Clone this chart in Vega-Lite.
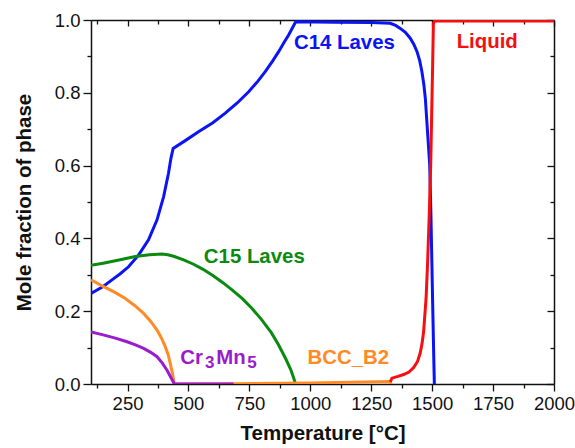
{
  "$schema": "https://vega.github.io/schema/vega-lite/v6.json",
  "width": 463,
  "height": 364,
  "autosize": "none",
  "padding": {"left": 91, "top": 20, "right": 21, "bottom": 64},
  "background": "white",
  "config": {
    "view": {"stroke": null},
    "font": "Liberation Sans",
    "axis": {"grid": false, "domainColor": "#111", "tickColor": "#111", "domainWidth": 1.5, "tickWidth": 1.3, "labelColor": "#111", "titleColor": "#111", "labelFont": "Liberation Sans", "titleFont": "Liberation Sans", "labelFontSize": 18.5, "titleFontSize": 20.5, "titleFontWeight": "bold"}
  },
  "datasets": {
    "curves": [
      {"phase": "C14 Laves", "T": 100, "y": 0.249},
      {"phase": "C14 Laves", "T": 150, "y": 0.268},
      {"phase": "C14 Laves", "T": 186, "y": 0.286},
      {"phase": "C14 Laves", "T": 220, "y": 0.303},
      {"phase": "C14 Laves", "T": 254, "y": 0.322},
      {"phase": "C14 Laves", "T": 295, "y": 0.354},
      {"phase": "C14 Laves", "T": 336, "y": 0.396},
      {"phase": "C14 Laves", "T": 371, "y": 0.451},
      {"phase": "C14 Laves", "T": 398, "y": 0.515},
      {"phase": "C14 Laves", "T": 418, "y": 0.579},
      {"phase": "C14 Laves", "T": 428, "y": 0.62},
      {"phase": "C14 Laves", "T": 437, "y": 0.647},
      {"phase": "C14 Laves", "T": 490, "y": 0.67},
      {"phase": "C14 Laves", "T": 541, "y": 0.693},
      {"phase": "C14 Laves", "T": 600, "y": 0.718},
      {"phase": "C14 Laves", "T": 651, "y": 0.744},
      {"phase": "C14 Laves", "T": 700, "y": 0.772},
      {"phase": "C14 Laves", "T": 747, "y": 0.803},
      {"phase": "C14 Laves", "T": 785, "y": 0.832},
      {"phase": "C14 Laves", "T": 815, "y": 0.858},
      {"phase": "C14 Laves", "T": 845, "y": 0.887},
      {"phase": "C14 Laves", "T": 870, "y": 0.913},
      {"phase": "C14 Laves", "T": 892, "y": 0.938},
      {"phase": "C14 Laves", "T": 911, "y": 0.959},
      {"phase": "C14 Laves", "T": 940, "y": 0.995},
      {"phase": "C14 Laves", "T": 1100, "y": 0.994},
      {"phase": "C14 Laves", "T": 1250, "y": 0.993},
      {"phase": "C14 Laves", "T": 1328, "y": 0.991},
      {"phase": "C14 Laves", "T": 1350, "y": 0.985},
      {"phase": "C14 Laves", "T": 1369, "y": 0.977},
      {"phase": "C14 Laves", "T": 1390, "y": 0.966},
      {"phase": "C14 Laves", "T": 1410, "y": 0.95},
      {"phase": "C14 Laves", "T": 1425, "y": 0.933},
      {"phase": "C14 Laves", "T": 1438, "y": 0.913},
      {"phase": "C14 Laves", "T": 1449, "y": 0.888},
      {"phase": "C14 Laves", "T": 1458, "y": 0.858},
      {"phase": "C14 Laves", "T": 1466, "y": 0.822},
      {"phase": "C14 Laves", "T": 1472, "y": 0.785},
      {"phase": "C14 Laves", "T": 1481, "y": 0.693},
      {"phase": "C14 Laves", "T": 1490, "y": 0.602},
      {"phase": "C14 Laves", "T": 1495, "y": 0.464},
      {"phase": "C14 Laves", "T": 1499, "y": 0.327},
      {"phase": "C14 Laves", "T": 1503, "y": 0.19},
      {"phase": "C14 Laves", "T": 1507, "y": 0.061},
      {"phase": "C14 Laves", "T": 1509, "y": 0.0},
      {"phase": "C15 Laves", "T": 100, "y": 0.326},
      {"phase": "C15 Laves", "T": 150, "y": 0.332},
      {"phase": "C15 Laves", "T": 210, "y": 0.34},
      {"phase": "C15 Laves", "T": 282, "y": 0.35},
      {"phase": "C15 Laves", "T": 340, "y": 0.355},
      {"phase": "C15 Laves", "T": 391, "y": 0.357},
      {"phase": "C15 Laves", "T": 415, "y": 0.355},
      {"phase": "C15 Laves", "T": 439, "y": 0.351},
      {"phase": "C15 Laves", "T": 480, "y": 0.341},
      {"phase": "C15 Laves", "T": 521, "y": 0.329},
      {"phase": "C15 Laves", "T": 560, "y": 0.315},
      {"phase": "C15 Laves", "T": 600, "y": 0.298},
      {"phase": "C15 Laves", "T": 640, "y": 0.279},
      {"phase": "C15 Laves", "T": 680, "y": 0.258},
      {"phase": "C15 Laves", "T": 720, "y": 0.235},
      {"phase": "C15 Laves", "T": 760, "y": 0.208},
      {"phase": "C15 Laves", "T": 800, "y": 0.177},
      {"phase": "C15 Laves", "T": 840, "y": 0.141},
      {"phase": "C15 Laves", "T": 870, "y": 0.107},
      {"phase": "C15 Laves", "T": 900, "y": 0.068},
      {"phase": "C15 Laves", "T": 920, "y": 0.039},
      {"phase": "C15 Laves", "T": 940, "y": 0.0},
      {"phase": "BCC_B2", "T": 100, "y": 0.286},
      {"phase": "BCC_B2", "T": 150, "y": 0.268},
      {"phase": "BCC_B2", "T": 200, "y": 0.251},
      {"phase": "BCC_B2", "T": 241, "y": 0.235},
      {"phase": "BCC_B2", "T": 280, "y": 0.215},
      {"phase": "BCC_B2", "T": 316, "y": 0.194},
      {"phase": "BCC_B2", "T": 345, "y": 0.172},
      {"phase": "BCC_B2", "T": 371, "y": 0.148},
      {"phase": "BCC_B2", "T": 390, "y": 0.125},
      {"phase": "BCC_B2", "T": 405, "y": 0.102},
      {"phase": "BCC_B2", "T": 417, "y": 0.08},
      {"phase": "BCC_B2", "T": 425, "y": 0.057},
      {"phase": "BCC_B2", "T": 434, "y": 0.03},
      {"phase": "BCC_B2", "T": 442, "y": 0.0},
      {"phase": "BCC_B2", "T": 700, "y": 0.001},
      {"phase": "BCC_B2", "T": 1000, "y": 0.003},
      {"phase": "BCC_B2", "T": 1328, "y": 0.007},
      {"phase": "BCC_B2", "T": 1331, "y": 0.0},
      {"phase": "Cr3Mn5", "T": 100, "y": 0.143},
      {"phase": "Cr3Mn5", "T": 150, "y": 0.135},
      {"phase": "Cr3Mn5", "T": 200, "y": 0.126},
      {"phase": "Cr3Mn5", "T": 248, "y": 0.116},
      {"phase": "Cr3Mn5", "T": 280, "y": 0.108},
      {"phase": "Cr3Mn5", "T": 316, "y": 0.098},
      {"phase": "Cr3Mn5", "T": 345, "y": 0.087},
      {"phase": "Cr3Mn5", "T": 371, "y": 0.075},
      {"phase": "Cr3Mn5", "T": 392, "y": 0.058},
      {"phase": "Cr3Mn5", "T": 412, "y": 0.038},
      {"phase": "Cr3Mn5", "T": 428, "y": 0.018},
      {"phase": "Cr3Mn5", "T": 442, "y": 0.0},
      {"phase": "Cr3Mn5", "T": 685, "y": 0.0},
      {"phase": "Liquid", "T": 1328, "y": 0.006},
      {"phase": "Liquid", "T": 1335, "y": 0.016},
      {"phase": "Liquid", "T": 1360, "y": 0.021},
      {"phase": "Liquid", "T": 1383, "y": 0.026},
      {"phase": "Liquid", "T": 1405, "y": 0.033},
      {"phase": "Liquid", "T": 1424, "y": 0.045},
      {"phase": "Liquid", "T": 1440, "y": 0.062},
      {"phase": "Liquid", "T": 1451, "y": 0.085},
      {"phase": "Liquid", "T": 1459, "y": 0.113},
      {"phase": "Liquid", "T": 1465, "y": 0.144},
      {"phase": "Liquid", "T": 1475, "y": 0.235},
      {"phase": "Liquid", "T": 1481, "y": 0.327},
      {"phase": "Liquid", "T": 1488, "y": 0.464},
      {"phase": "Liquid", "T": 1494, "y": 0.602},
      {"phase": "Liquid", "T": 1498, "y": 0.739},
      {"phase": "Liquid", "T": 1502, "y": 0.876},
      {"phase": "Liquid", "T": 1505, "y": 0.99},
      {"phase": "Liquid", "T": 1510, "y": 0.997},
      {"phase": "Liquid", "T": 2000, "y": 0.997}
    ],
    "labels": [
      {"phase": "C14 Laves", "text": "C14 Laves", "T": 1140, "y": 0.937},
      {"phase": "Liquid", "text": "Liquid", "T": 1726, "y": 0.94},
      {"phase": "C15 Laves", "text": "C15 Laves", "T": 770, "y": 0.349},
      {"phase": "BCC_B2", "text": "BCC_B2", "T": 1156, "y": 0.071}
    ],
    "formula": [
      {"phase": "Cr3Mn5", "text": "Cr", "T": 466, "y": 0.071, "sub": false},
      {"phase": "Cr3Mn5", "text": "3", "T": 568, "y": 0.071, "sub": true},
      {"phase": "Cr3Mn5", "text": "Mn", "T": 614, "y": 0.071, "sub": false},
      {"phase": "Cr3Mn5", "text": "5", "T": 741, "y": 0.071, "sub": true}
    ],
    "anchor": [{"T": 100, "y": 0}]
  },
  "resolve": {"axis": {"x": "independent", "y": "independent"}},
  "layer": [
    {
      "data": {"name": "anchor"},
      "mark": {"type": "point", "opacity": 0},
      "encoding": {
        "x": {"field": "T", "type": "quantitative", "scale": {"domain": [100, 2000], "nice": false, "zero": false},
          "axis": {"orient": "bottom", "values": [250, 500, 750, 1000, 1250, 1500, 1750, 2000], "format": "d", "tickSize": 7, "labelPadding": 3, "labelFlush": false, "title": "Temperature [°C]", "titlePadding": 11}},
        "y": {"field": "y", "type": "quantitative", "scale": {"domain": [0, 1], "nice": false, "zero": false},
          "axis": {"orient": "left", "values": [0, 0.2, 0.4, 0.6, 0.8, 1.0], "format": ".1f", "tickSize": 8, "labelPadding": 3, "labelFlush": false, "title": "Mole fraction of phase", "titlePadding": 20}}
      }
    },
    {
      "data": {"name": "anchor"},
      "mark": {"type": "point", "opacity": 0},
      "encoding": {
        "x": {"field": "T", "type": "quantitative",
          "axis": {"orient": "bottom", "values": [125, 375, 625, 875, 1125, 1375, 1625, 1875], "tickSize": 4, "labels": false, "domain": false, "title": null}},
        "y": {"field": "y", "type": "quantitative",
          "axis": {"orient": "left", "values": [0.1, 0.3, 0.5, 0.7, 0.9], "tickSize": 4, "labels": false, "domain": false, "title": null}}
      }
    },
    {
      "data": {"name": "anchor"},
      "mark": {"type": "point", "opacity": 0},
      "encoding": {
        "x": {"field": "T", "type": "quantitative",
          "axis": {"orient": "top", "values": [250, 500, 750, 1000, 1250, 1500, 1750, 2000], "tickSize": -6, "labels": false, "title": null}},
        "y": {"field": "y", "type": "quantitative",
          "axis": {"orient": "right", "values": [0, 0.2, 0.4, 0.6, 0.8, 1.0], "tickSize": -7, "labels": false, "title": null}}
      }
    },
    {
      "data": {"name": "anchor"},
      "mark": {"type": "point", "opacity": 0},
      "encoding": {
        "x": {"field": "T", "type": "quantitative",
          "axis": {"orient": "top", "values": [125, 375, 625, 875, 1125, 1375, 1625, 1875], "tickSize": -4, "labels": false, "domain": false, "title": null}},
        "y": {"field": "y", "type": "quantitative",
          "axis": {"orient": "right", "values": [0.1, 0.3, 0.5, 0.7, 0.9], "tickSize": -4, "labels": false, "domain": false, "title": null}}
      }
    },
    {
      "data": {"name": "curves"},
      "transform": [{"filter": "datum.phase === 'C14 Laves'"}],
      "mark": {"type": "line", "strokeWidth": 3, "clip": true},
      "encoding": {
        "x": {"field": "T", "type": "quantitative", "axis": null},
        "y": {"field": "y", "type": "quantitative", "axis": null},
        "color": {"field": "phase", "type": "nominal", "legend": null,
          "scale": {"domain": ["C14 Laves", "C15 Laves", "BCC_B2", "Cr3Mn5", "Liquid"], "range": ["#0a14f5", "#0b8a10", "#ff8a26", "#9a1ccc", "#f50f0f"]}}
      }
    },
    {
      "data": {"name": "curves"},
      "transform": [{"filter": "datum.phase === 'C15 Laves'"}],
      "mark": {"type": "line", "strokeWidth": 3, "clip": true},
      "encoding": {
        "x": {"field": "T", "type": "quantitative", "axis": null},
        "y": {"field": "y", "type": "quantitative", "axis": null},
        "color": {"field": "phase", "type": "nominal", "legend": null}
      }
    },
    {
      "data": {"name": "curves"},
      "transform": [{"filter": "datum.phase === 'BCC_B2'"}],
      "mark": {"type": "line", "strokeWidth": 3, "clip": true},
      "encoding": {
        "x": {"field": "T", "type": "quantitative", "axis": null},
        "y": {"field": "y", "type": "quantitative", "axis": null},
        "color": {"field": "phase", "type": "nominal", "legend": null}
      }
    },
    {
      "data": {"name": "curves"},
      "transform": [{"filter": "datum.phase === 'Cr3Mn5'"}],
      "mark": {"type": "line", "strokeWidth": 3, "clip": true},
      "encoding": {
        "x": {"field": "T", "type": "quantitative", "axis": null},
        "y": {"field": "y", "type": "quantitative", "axis": null},
        "color": {"field": "phase", "type": "nominal", "legend": null}
      }
    },
    {
      "data": {"name": "curves"},
      "transform": [{"filter": "datum.phase === 'Liquid'"}],
      "mark": {"type": "line", "strokeWidth": 3, "clip": true},
      "encoding": {
        "x": {"field": "T", "type": "quantitative", "axis": null},
        "y": {"field": "y", "type": "quantitative", "axis": null},
        "color": {"field": "phase", "type": "nominal", "legend": null}
      }
    },
    {
      "data": {"name": "labels"},
      "mark": {"type": "text", "font": "Liberation Sans", "fontSize": 20.4, "fontWeight": "bold", "align": "center", "baseline": "middle"},
      "encoding": {
        "x": {"field": "T", "type": "quantitative", "axis": null},
        "y": {"field": "y", "type": "quantitative", "axis": null},
        "text": {"field": "text"},
        "color": {"field": "phase", "type": "nominal", "legend": null}
      }
    },
    {
      "data": {"name": "formula"},
      "transform": [{"filter": "!datum.sub"}],
      "mark": {"type": "text", "font": "Liberation Sans", "fontSize": 20.4, "fontWeight": "bold", "align": "left", "baseline": "middle"},
      "encoding": {
        "x": {"field": "T", "type": "quantitative", "axis": null},
        "y": {"field": "y", "type": "quantitative", "axis": null},
        "text": {"field": "text"},
        "color": {"field": "phase", "type": "nominal", "legend": null}
      }
    },
    {
      "data": {"name": "formula"},
      "transform": [{"filter": "datum.sub"}],
      "mark": {"type": "text", "font": "Liberation Sans", "fontSize": 17, "fontWeight": "bold", "align": "left", "baseline": "middle", "dy": 5},
      "encoding": {
        "x": {"field": "T", "type": "quantitative", "axis": null},
        "y": {"field": "y", "type": "quantitative", "axis": null},
        "text": {"field": "text"},
        "color": {"field": "phase", "type": "nominal", "legend": null}
      }
    }
  ]
}
